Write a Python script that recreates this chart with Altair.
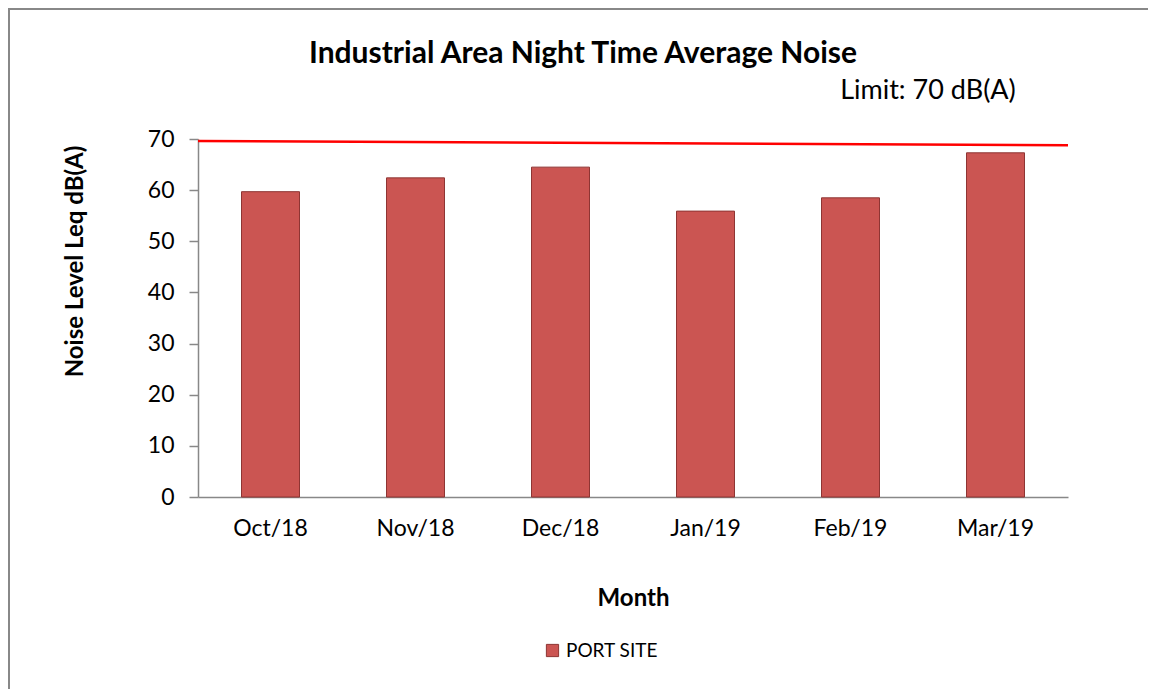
import altair as alt
import pandas as pd

months = ["Oct/18", "Nov/18", "Dec/18", "Jan/19", "Feb/19", "Mar/19"]
noise = [59.7, 62.4, 64.5, 55.9, 58.5, 67.3]
series_name = "PORT SITE"
limit_start = 69.6
limit_end = 68.8
limit_label = "Limit: 70 dB(A)"
title_text = "Industrial Area Night Time Average Noise"

FONT = "Lato"
W, H = 870, 358

bars_df = pd.DataFrame({"Month": months, "Noise": noise, "Series": [series_name] * len(months)})
limit_df = pd.DataFrame({"y1": [limit_start], "y2": [limit_end], "label": [limit_label],
                         "title": [title_text]})

bars = alt.Chart(bars_df).mark_bar(stroke="#8E3533", strokeWidth=1).encode(
    x=alt.X("Month:N", sort=months,
            scale=alt.Scale(paddingInner=0.6, paddingOuter=0.3),
            axis=alt.Axis(title="Month", labelAngle=0, labelFontSize=23, labelPadding=20,
                          ticks=False, domainColor="#888888", domainWidth=1.5,
                          titleFontSize=24, titleFontWeight="bold", titlePadding=46,
                          labelColor="#000000", titleColor="#000000")),
    y=alt.Y("Noise:Q", scale=alt.Scale(domain=[0, 70]),
            axis=alt.Axis(title="Noise Level Leq dB(A)", values=[0, 10, 20, 30, 40, 50, 60, 70],
                          grid=False, tickSize=9, tickColor="#888888", tickWidth=1.5,
                          domainColor="#888888", domainWidth=1.5,
                          labelFontSize=23, labelPadding=15, labelColor="#000000",
                          titleFontSize=24, titleFontWeight="bold", titleColor="#000000",
                          titleAngle=270, titleX=-123, titleY=122,
                          titleAlign="center", titleBaseline="middle")),
    color=alt.Color("Series:N", scale=alt.Scale(range=["#CB5552"]),
                    legend=alt.Legend(title=None, orient="none", legendX=345, legendY=502,
                                      symbolType="square", symbolSize=150,
                                      symbolStrokeColor="#8E3533", symbolStrokeWidth=1,
                                      labelFontSize=19, labelColor="#000000")),
)

limit_line = alt.Chart(limit_df).mark_rule(color="#FF0000", strokeWidth=2.5).encode(
    x=alt.value(0), x2=alt.value(W),
    y=alt.Y("y1:Q"), y2=alt.Y2("y2:Q"),
)

limit_text = alt.Chart(limit_df).mark_text(fontSize=27, font=FONT, align="center",
                                           baseline="alphabetic", color="#000000").encode(
    x=alt.value(730), y=alt.value(-40), text="label:N"
)

title_mark = alt.Chart(limit_df).mark_text(fontSize=30, font=FONT, fontWeight="bold",
                                           align="center", baseline="alphabetic",
                                           color="#000000").encode(
    x=alt.value(385), y=alt.value(-76), text="title:N"
)

frame_left = alt.Chart(limit_df).mark_rect(fill="#888888").encode(
    x=alt.value(-190), x2=alt.value(-188),
    y=alt.value(-131), y2=alt.value(H + 192),
)
frame_top = alt.Chart(limit_df).mark_rect(fill="#888888").encode(
    x=alt.value(-190), x2=alt.value(W + 80),
    y=alt.value(-131), y2=alt.value(-129),
)

chart = alt.layer(frame_left, frame_top, bars, limit_line, limit_text, title_mark).properties(
    width=W, height=H,
    autosize=alt.AutoSizeParams(type="none"),
    padding={"left": 190, "top": 131, "right": 80, "bottom": 192},
).configure(font=FONT).configure_view(stroke=None).configure_axis(labelFont=FONT, titleFont=FONT).configure_legend(labelFont=FONT)

chart.save("out.html", embed_options={"renderer": "svg", "actions": False})
